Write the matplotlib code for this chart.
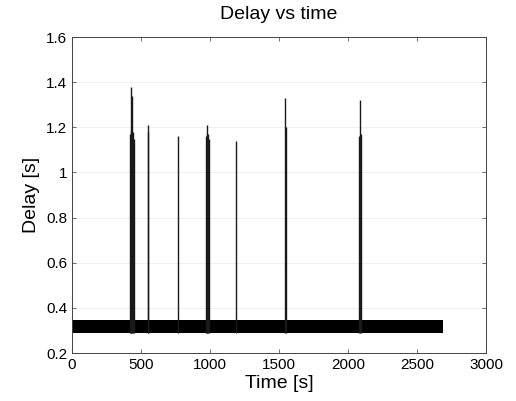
import numpy as np
import matplotlib.pyplot as plt

plt.rcParams['font.family'] = ['Liberation Sans', 'DejaVu Sans']

# baseline delay band (min/max envelope over the whole run)
band_t = [0, 2690]
band_low = [0.29, 0.29]
band_high = [0.345, 0.345]

# delay spikes: sample times [s] and peak delays [s]
spike_t = [420, 425, 430, 435, 440, 446, 548, 553, 768, 972, 977, 982, 987, 991,
           1190, 1545, 1549, 2082, 2087, 2092]
spike_peak = [1.17, 1.19, 1.38, 1.34, 1.18, 1.15, 1.21, 1.18, 1.16, 1.16, 1.17,
              1.21, 1.17, 1.15, 1.14, 1.33, 1.20, 1.16, 1.32, 1.17]

xticks = [0, 500, 1000, 1500, 2000, 2500, 3000]
yticks = [0.2, 0.4, 0.6, 0.8, 1.0, 1.2, 1.4, 1.6]
ytick_labels = ['0.2', '0.4', '0.6', '0.8', '1', '1.2', '1.4', '1.6']

fig = plt.figure(figsize=(5.16, 4.01), dpi=100)
ax = fig.add_axes([0.1395, 0.1197, 0.8023, 0.788])

ax.fill_between(band_t, band_low, band_high, color='black', lw=0)
ax.vlines(spike_t, band_low[0], spike_peak, color='#1a1a1a', lw=1.0)

ax.set_xlim(0, 3000)
ax.set_ylim(0.2, 1.6)
ax.set_xticks(xticks)
ax.set_yticks(yticks)
ax.set_yticklabels(ytick_labels)
ax.grid(axis='y', color='#f0f0f0', lw=0.8)
ax.set_axisbelow(True)
ax.tick_params(direction='in', top=True, right=True, labelsize=11, length=3,
               color='#555555', width=0.6)
for s in ax.spines.values():
    s.set_linewidth(0.7)
    s.set_color('#444444')

ax.set_xlabel('Time [s]', fontsize=14, labelpad=2)
ax.set_ylabel('Delay [s]', fontsize=14, labelpad=4)
ax.set_title('Delay vs time', fontsize=14, pad=13)

fig.savefig('out.png', dpi=100)
